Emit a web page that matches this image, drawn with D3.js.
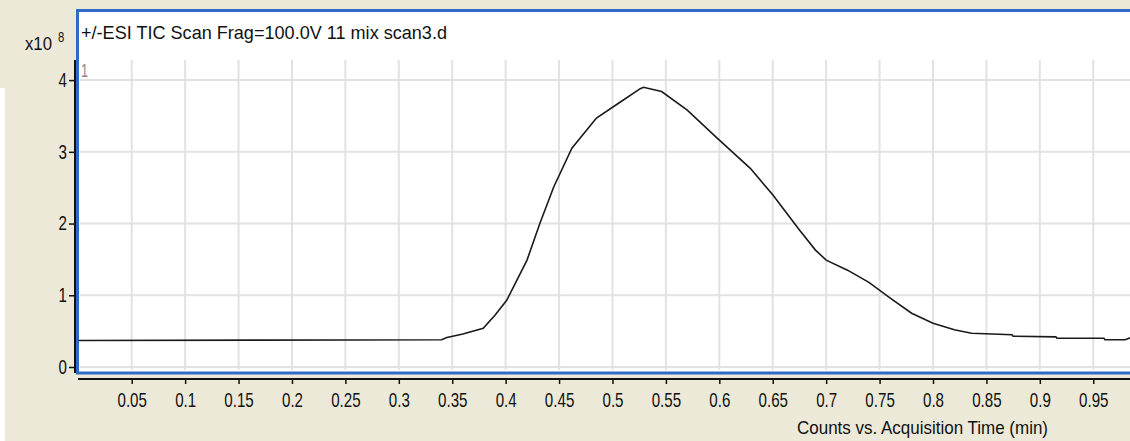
<!DOCTYPE html>
<html>
<head>
<meta charset="utf-8">
<script src="https://cdn.jsdelivr.net/npm/d3@7"></script>
<style>
  html, body { margin: 0; padding: 0; background: #ECE9D8; }
  svg { display: block; }
  text { font-family: "Liberation Sans", Arial, sans-serif; fill: #111; }
</style>
</head>
<body>
<svg id="chart" width="1130" height="441"></svg>
<script>
// acquisition time (min) and counts (x10^8)
const times = [0, 0.34, 0.345, 0.36, 0.379, 0.39, 0.401, 0.42, 0.432, 0.445, 0.462, 0.485, 0.506, 0.526, 0.529,
  0.546, 0.57, 0.598, 0.629, 0.65, 0.675, 0.69, 0.70, 0.72, 0.74, 0.76, 0.78, 0.80, 0.82, 0.836,
  0.874, 0.875, 0.915, 0.916, 0.96, 0.961, 0.98, 0.985]
const counts = [0.37, 0.38, 0.41, 0.46, 0.54, 0.72, 0.93, 1.49, 2.0, 2.51, 3.05, 3.47, 3.68, 3.88, 3.90,
  3.84, 3.58, 3.19, 2.77, 2.40, 1.91, 1.63, 1.49, 1.35, 1.18, 0.96, 0.75, 0.61, 0.52, 0.47,
  0.45, 0.43, 0.42, 0.40, 0.40, 0.38, 0.38, 0.41]

const xTicks = [0.05, 0.1, 0.15, 0.2, 0.25, 0.3, 0.35, 0.4, 0.45, 0.5, 0.55, 0.6, 0.65, 0.7, 0.75, 0.8, 0.85, 0.9, 0.95]
const xTickLabels = ['0.05', '0.1', '0.15', '0.2', '0.25', '0.3', '0.35', '0.4', '0.45', '0.5', '0.55', '0.6', '0.65', '0.7', '0.75', '0.8', '0.85', '0.9', '0.95']
const yTicks = [0, 1, 2, 3, 4]

const title = '+/-ESI TIC Scan Frag=100.0V 11 mix scan3.d'
const xTitle = 'Counts vs. Acquisition Time (min)'

const svg = d3.select('#chart')

const x = d3.scaleLinear().domain([0, 0.9844]).range([78.3, 1130])
const y = d3.scaleLinear().domain([0, 4.28]).range([367, 60])

// squeeze text horizontally, the original uses a narrow font
const narrow = (sel, k) => sel.each(function () {
  const w = this.getComputedTextLength()
  d3.select(this).attr('textLength', w * k).attr('lengthAdjust', 'spacingAndGlyphs')
})

// white strip on the far left
svg.append('rect').attr('x', 0).attr('y', 88).attr('width', 5).attr('height', 353).attr('fill', '#fff')

// plot panel with blue frame
svg.append('rect')
  .attr('x', 77.5).attr('y', 10.5)
  .attr('width', 1060).attr('height', 362.5)
  .attr('fill', '#fff')
  .attr('stroke', '#3169C6')
  .attr('stroke-width', 3)

// grid
const grid = svg.append('g')
grid.selectAll('line.v').data(xTicks).enter().append('line')
  .attr('x1', d => x(d)).attr('x2', d => x(d))
  .attr('y1', 60).attr('y2', 370)
  .attr('stroke', '#e2e2e2').attr('stroke-width', 2)
grid.selectAll('line.h').data(yTicks).enter().append('line')
  .attr('x1', 80).attr('x2', 1130)
  .attr('y1', d => y(d)).attr('y2', d => y(d))
  .attr('stroke', '#e2e2e2').attr('stroke-width', 2)

// trace
const pts = times.map((t, i) => [t, counts[i]])
svg.append('path')
  .datum(pts)
  .attr('d', d3.line().x(d => x(d[0])).y(d => y(d[1])))
  .attr('fill', 'none')
  .attr('stroke', '#1a1a1a')
  .attr('stroke-width', 1.6)

// axes
const xAxis = d3.axisBottom(x)
  .tickValues(xTicks)
  .tickFormat((d, i) => xTickLabels[i])
  .tickSize(5)
  .tickSizeOuter(0)
const gx = svg.append('g').attr('transform', 'translate(0,379)').call(xAxis)
gx.attr('font-size', 21).attr('font-family', '"Liberation Sans", Arial, sans-serif')
gx.select('.domain').attr('stroke', '#111').attr('stroke-width', 2).attr('d', 'M78,0H1130')
gx.selectAll('.tick line').attr('stroke', '#111').attr('stroke-width', 1.5)
gx.selectAll('.tick text')
  .attr('y', 13)
  .attr('fill', '#222')
  .call(narrow, 0.72)

const yAxis = d3.axisLeft(y)
  .tickValues(yTicks)
  .tickFormat(d3.format('d'))
  .tickSize(6)
  .tickSizeOuter(0)
const gy = svg.append('g').attr('transform', 'translate(75,0)').call(yAxis)
gy.attr('font-size', 21).attr('font-family', '"Liberation Sans", Arial, sans-serif')
gy.select('.domain').attr('stroke', '#111').attr('stroke-width', 2).attr('d', 'M0,60V373')
gy.selectAll('.tick line').attr('stroke', '#111').attr('stroke-width', 1.5)
gy.selectAll('.tick text')
  .attr('x', -8)
  .attr('dy', '0.3em')
  .attr('fill', '#222')
  .call(narrow, 0.72)

// texts
svg.append('text').attr('x', 81).attr('y', 39).attr('font-size', 19).text(title)
  .attr('textLength', 366).attr('lengthAdjust', 'spacingAndGlyphs')
svg.append('text').attr('x', 797).attr('y', 434).attr('font-size', 19).text(xTitle)
  .attr('textLength', 251).attr('lengthAdjust', 'spacingAndGlyphs')
svg.append('text').attr('x', 25).attr('y', 50).attr('font-size', 19).text('x10')
  .attr('textLength', 27).attr('lengthAdjust', 'spacingAndGlyphs')
svg.append('text').attr('x', 58).attr('y', 42).attr('font-size', 15).text('8')
  .call(narrow, 0.75)
svg.append('text').attr('x', 81).attr('y', 77).attr('font-size', 18).style('fill', '#888').text('1')
  .call(narrow, 0.7)
</script>
</body>
</html>
